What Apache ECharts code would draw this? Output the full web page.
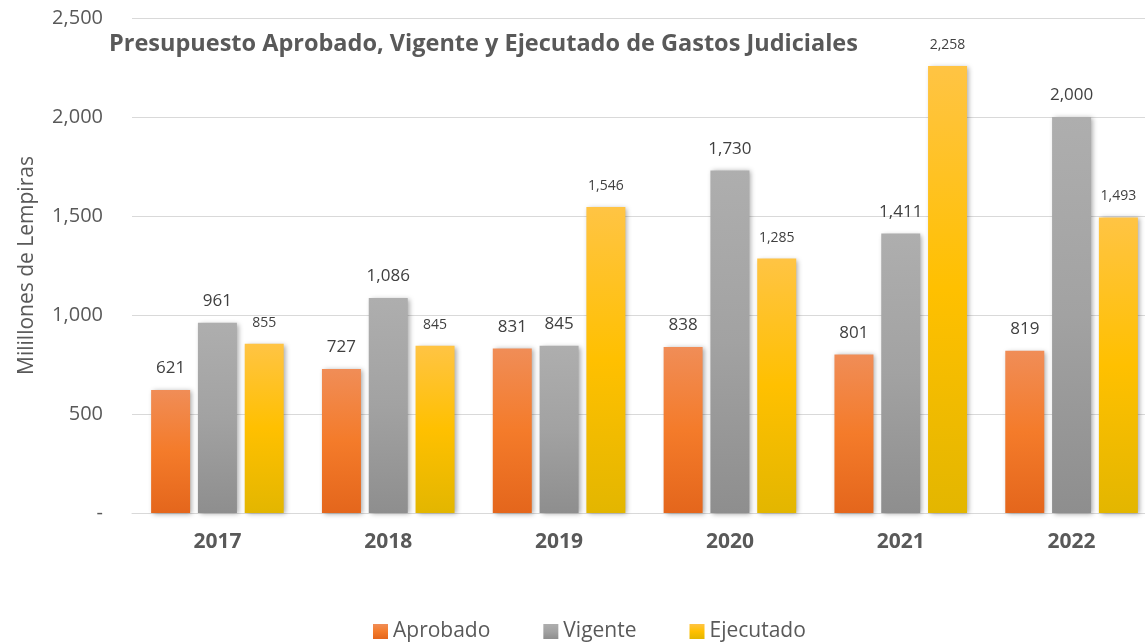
<!DOCTYPE html>
<html>
<head>
<meta charset="utf-8">
<script src="https://cdn.jsdelivr.net/npm/echarts@6/dist/echarts.min.js"></script>
<style>
  html, body { margin: 0; padding: 0; background: #fff; }
  #chart { width: 1145px; height: 643px; }
</style>
</head>
<body>
<div id="chart"></div>
<script>
var years = ['2017', '2018', '2019', '2020', '2021', '2022'];
var aprobado = [621, 727, 831, 838, 801, 819];
var vigente = [961, 1086, 845, 1730, 1411, 2000];
var ejecutado = [855, 845, 1546, 1285, 2258, 1493];

function fmt(v) {
  if (v === 0) return '-';
  return String(v).replace(/\B(?=(\d{3})+(?!\d))/g, ',');
}

function grad(top, mid, bottom) {
  return new echarts.graphic.LinearGradient(0, 0, 0, 1, [
    { offset: 0, color: top },
    { offset: 0.5, color: mid },
    { offset: 1, color: bottom }
  ]);
}

var shadow = {
  shadowBlur: 5,
  shadowColor: 'rgba(0,0,0,0.35)',
  shadowOffsetX: 2,
  shadowOffsetY: 1
};

var myChart = echarts.init(document.getElementById('chart'));
myChart.setOption({
  animation: false,
  title: {
    text: 'Presupuesto Aprobado, Vigente y Ejecutado de Gastos Judiciales',
    left: 104,
    top: 27,
    textStyle: {
      color: '#595959',
      fontSize: 23.5,
      fontWeight: 'bold',
      fontFamily: 'Open Sans'
    }
  },
  legend: {
    top: 616,
    left: 368,
    itemGap: 53,
    itemWidth: 15,
    itemHeight: 15,
    icon: 'rect',
    textStyle: { color: '#595959', fontSize: 21, fontFamily: 'Open Sans' },
    data: ['Aprobado', 'Vigente', 'Ejecutado']
  },
  grid: {
    left: 132, width: 1025, top: 18, bottom: 130,
    containLabel: false, outerBoundsMode: 'none'
  },
  xAxis: {
    type: 'category',
    data: years,
    axisLine: { lineStyle: { color: '#d9d9d9', width: 1 } },
    axisTick: { show: false },
    axisLabel: {
      color: '#595959',
      fontSize: 21,
      fontWeight: 'bold',
      fontFamily: 'Open Sans',
      margin: 19
    }
  },
  yAxis: {
    type: 'value',
    min: 0,
    max: 2500,
    interval: 500,
    name: 'Milillones de Lempiras',
    nameLocation: 'middle',
    nameGap: 94,
    nameTextStyle: { color: '#595959', fontSize: 21, fontFamily: 'Open Sans' },
    axisLine: { show: false },
    axisTick: { show: false },
    splitLine: { lineStyle: { color: '#d9d9d9', width: 1 } },
    axisLabel: {
      color: '#595959',
      fontSize: 20,
      fontFamily: 'Open Sans',
      margin: 29,
      formatter: fmt
    }
  },
  series: [
    {
      name: 'Aprobado',
      type: 'bar',
      data: aprobado,
      barWidth: 39,
      barGap: '20%',
      itemStyle: Object.assign({ color: grad('#F08D57', '#F47B2A', '#E4661C') }, shadow),
      label: {
        show: true, position: 'top', distance: 13,
        color: '#404040', fontSize: 17, fontFamily: 'Open Sans',
        formatter: function (p) { return fmt(p.value); }
      }
    },
    {
      name: 'Vigente',
      type: 'bar',
      data: vigente,
      barWidth: 39,
      barGap: '20%',
      itemStyle: Object.assign({ color: grad('#AEAEAE', '#A2A2A2', '#8E8E8E') }, shadow),
      label: {
        show: true, position: 'top', distance: 13,
        color: '#404040', fontSize: 17, fontFamily: 'Open Sans',
        formatter: function (p) { return fmt(p.value); }
      }
    },
    {
      name: 'Ejecutado',
      type: 'bar',
      data: ejecutado,
      barWidth: 39,
      barGap: '20%',
      itemStyle: Object.assign({ color: grad('#FFC444', '#FFC000', '#E3B600') }, shadow),
      label: {
        show: true, position: 'top', distance: 14,
        color: '#404040', fontSize: 14, fontFamily: 'Open Sans',
        formatter: function (p) { return fmt(p.value); }
      }
    }
  ]
});
</script>
</body>
</html>
